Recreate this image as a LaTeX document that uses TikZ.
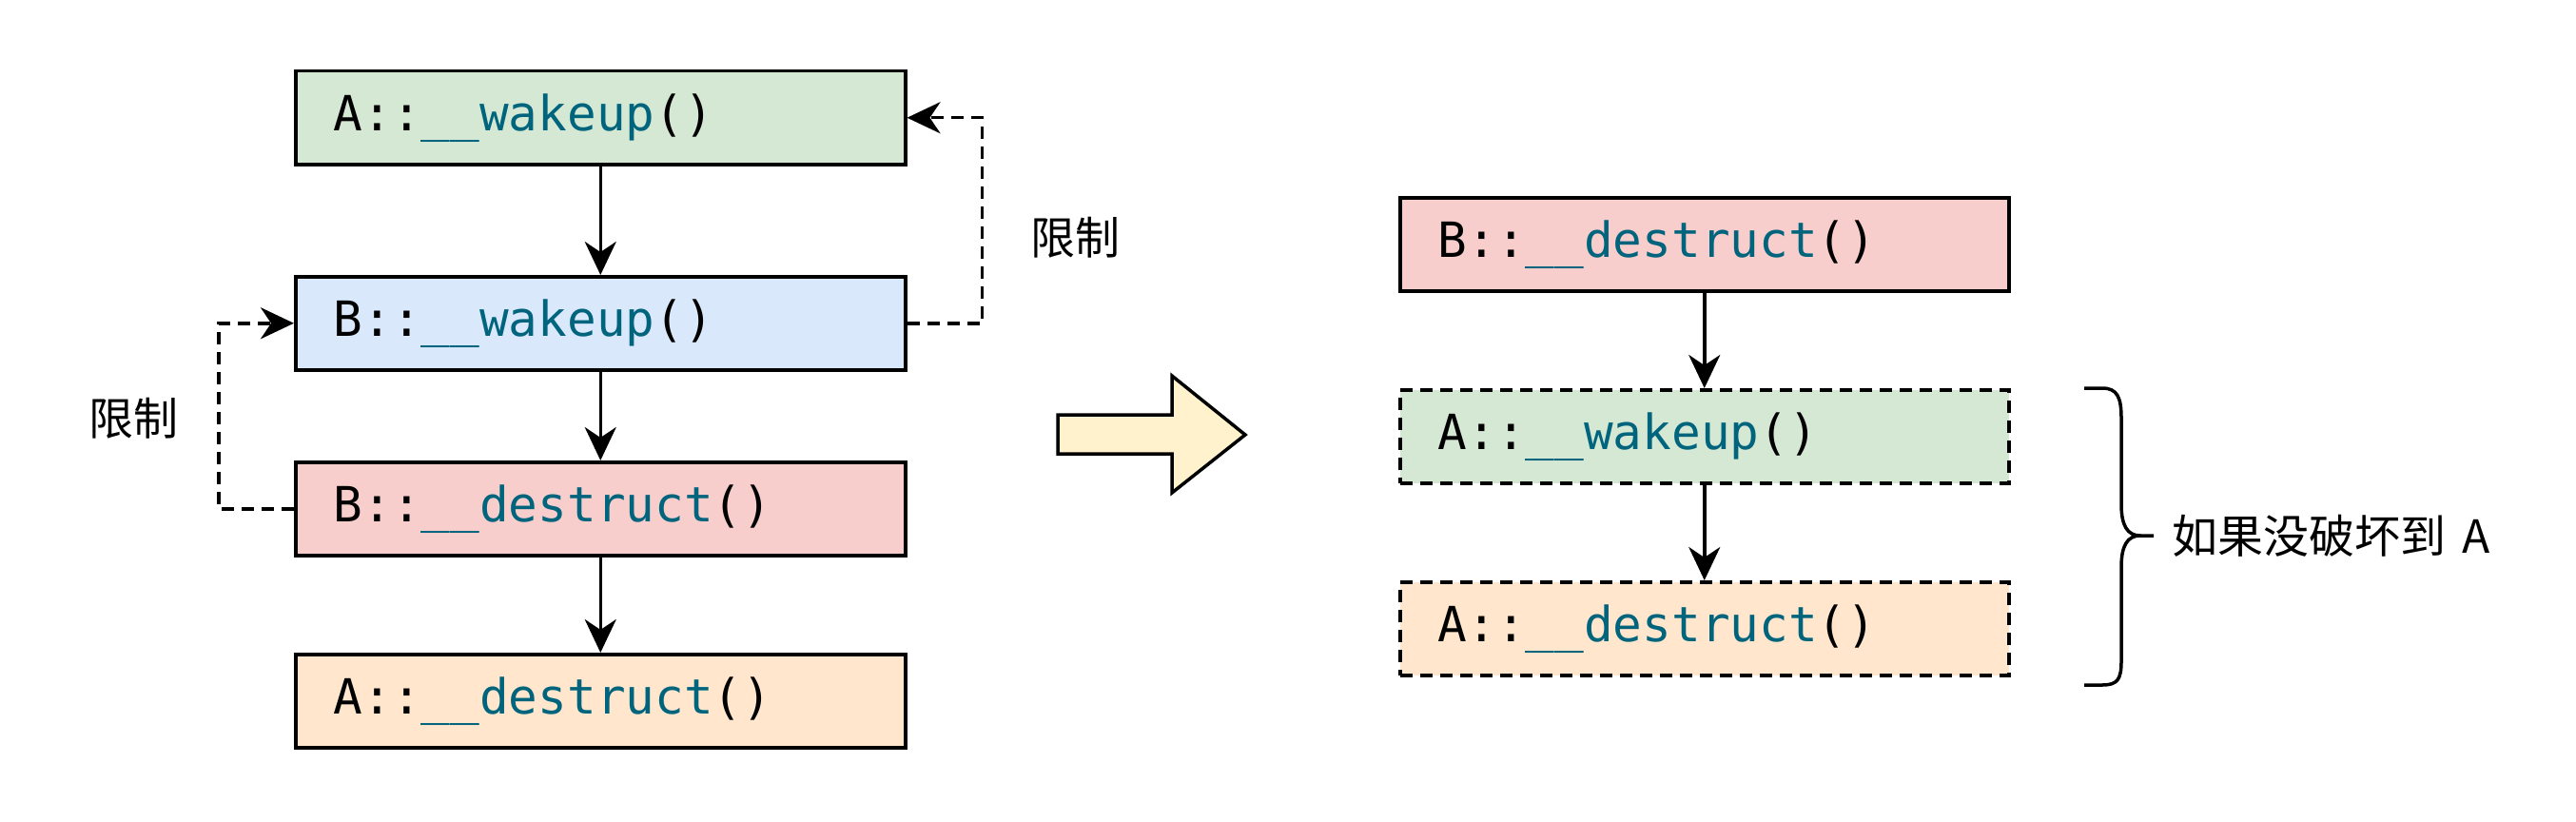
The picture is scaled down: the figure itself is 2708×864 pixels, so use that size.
\documentclass[tikz,border=0pt]{standalone}
\usepackage{fontspec}
\setmonofont{DejaVu Sans Mono}
\newfontfamily\cjkfont{Noto Sans CJK SC}
\usetikzlibrary{arrows.meta}
\definecolor{gfill}{HTML}{D5E8D4}
\definecolor{bfill}{HTML}{DAE8FC}
\definecolor{rfill}{HTML}{F8CECC}
\definecolor{ofill}{HTML}{FFE6CC}
\definecolor{yfill}{HTML}{FFF2CC}
\definecolor{codeteal}{RGB}{0,100,125}
\newcommand{\fnlabel}[2]{\rule[-0.14em]{0pt}{0.9em}#1::\textcolor{codeteal}{\_\_#2}()}
\begin{document}
\begin{tikzpicture}[x=1pt,y=-1pt,
  box/.style={draw, line width=3.5pt, minimum width=641pt, minimum height=98pt,
    inner xsep=40pt, inner ysep=0pt, text width=561pt, align=left, anchor=north west,
    font=\ttfamily\fontsize{51pt}{60pt}\selectfont},
  dbox/.style={box, dash pattern=on 13pt off 8pt},
  conn/.style={line width=3.5pt, -{Stealth[length=35pt, width=33pt, inset=11pt]}},
  dconn/.style={conn, dash pattern=on 13pt off 8pt},
  lab/.style={font=\cjkfont\fontsize{47pt}{56pt}\selectfont, inner sep=0pt}
]
\fill[white] (0,0) rectangle (2708,864);
\useasboundingbox (0,0) rectangle (2708,864);

% left column
\node[box, fill=gfill] (Aw) at (309,73)  {\fnlabel{A}{wakeup}};
\node[box, fill=bfill] (Bw) at (309,289) {\fnlabel{B}{wakeup}};
\node[box, fill=rfill] (Bd) at (309,484) {\fnlabel{B}{destruct}};
\node[box, fill=ofill] (Ad) at (309,686) {\fnlabel{A}{destruct}};

\draw[conn] (Aw.south) -- (Bw.north);
\draw[conn] (Bw.south) -- (Bd.north);
\draw[conn] (Bd.south) -- (Ad.north);

\draw[dconn] (Bw.east) -- ++(79,0) |- (Aw.east);
\draw[dconn] (Bd.west) -- ++(-79,0) |- (Bw.west);

\node[lab] (l1) at (1130,250) {限制};
\node[lab] (l2) at (140,440) {限制};

% big arrow
\draw[line width=3.5pt, fill=yfill] (1112,436) -- (1232,436) -- (1232,395) -- (1309,457)
  -- (1232,518) -- (1232,477) -- (1112,477) -- cycle;

% right column
\node[box, minimum width=640pt, text width=560pt, fill=rfill] (rBd) at (1470,206) {\fnlabel{B}{destruct}};
\node[dbox, minimum width=640pt, text width=560pt, fill=gfill] (rAw) at (1470,408) {\fnlabel{A}{wakeup}};
\node[dbox, minimum width=640pt, text width=560pt, fill=ofill] (rAd) at (1470,610) {\fnlabel{A}{destruct}};

\draw[conn] (rBd.south) -- (rAw.north);
\draw[conn] (rAw.south) -- (rAd.north);

% brace
\draw[line width=3.5pt] (2191,408) -- (2210,408) .. controls (2226,408) and (2230,418) .. (2230,440)
  -- (2230,530) .. controls (2230,552) and (2236,563) .. (2250,563) -- (2264,563);
\draw[line width=3.5pt] (2250,563) .. controls (2236,563) and (2230,574) .. (2230,596)
  -- (2230,695) .. controls (2230,714) and (2226,720) .. (2210,720) -- (2191,720);

\node[lab, anchor=west, font=\cjkfont\fontsize{48pt}{56pt}\selectfont] (note) at (2283,563) {如果没破坏到\hspace{0.35em}A};
\end{tikzpicture}
\end{document}
